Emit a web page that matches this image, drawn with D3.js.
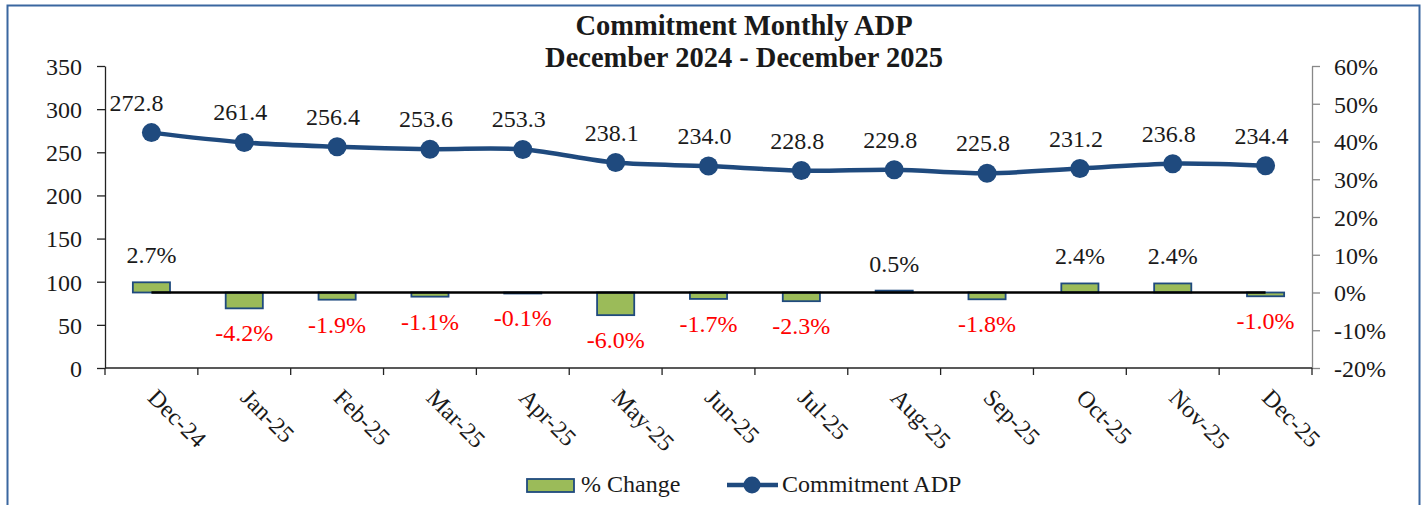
<!DOCTYPE html>
<html>
<head>
<meta charset="utf-8">
<script src="https://cdn.jsdelivr.net/npm/d3@7"></script>
<style>
  body { margin: 0; background: #fff; }
  svg text { font-family: "Liberation Serif", "Times New Roman", serif; fill: #1a1a1a; }
</style>
</head>
<body>
<div id="chart"></div>
<script>
// chart data
const months = ["Dec-24","Jan-25","Feb-25","Mar-25","Apr-25","May-25","Jun-25","Jul-25","Aug-25","Sep-25","Oct-25","Nov-25","Dec-25"];
const adp = [272.8, 261.4, 256.4, 253.6, 253.3, 238.1, 234.0, 228.8, 229.8, 225.8, 231.2, 236.8, 234.4];
const pctChange = [2.7, -4.2, -1.9, -1.1, -0.1, -6.0, -1.7, -2.3, 0.5, -1.8, 2.4, 2.4, -1.0];
const leftTicks = [0, 50, 100, 150, 200, 250, 300, 350];
const rightTicks = [-20, -10, 0, 10, 20, 30, 40, 50, 60];

const W = 1423, H = 505;
const margin = { top: 66, right: 111, bottom: 137, left: 105 };
const width = W - margin.left - margin.right;
const height = H - margin.top - margin.bottom;

const navy = "#1F4A7E";
const green = "#9BBB59";
const serif = '"Liberation Serif", "Times New Roman", serif';
const fs = "24px";

const svg = d3.select("#chart").append("svg")
  .attr("width", W)
  .attr("height", H)
  .style("font-family", serif);

// outer frame
svg.append("rect")
  .attr("x", 7.5).attr("y", 5.5)
  .attr("width", 1412).attr("height", 520)
  .attr("fill", "none")
  .attr("stroke", "#3A67A0")
  .attr("stroke-width", 2);

// title
svg.append("text")
  .attr("x", 744).attr("y", 35)
  .attr("text-anchor", "middle")
  .style("font-weight", "bold").style("font-size", "28.5px")
  .text("Commitment Monthly ADP");
svg.append("text")
  .attr("x", 744).attr("y", 67)
  .attr("text-anchor", "middle")
  .style("font-weight", "bold").style("font-size", "28.5px")
  .text("December 2024 - December 2025");

const g = svg.append("g")
  .attr("transform", `translate(${margin.left},${margin.top})`);

// scales
const x = d3.scaleBand().domain(months).range([0, width]).padding(0);
const yL = d3.scaleLinear().domain([0, 350]).range([height, 0]);
const yR = d3.scaleLinear().domain([-20, 60]).range([height, 0]);
const cx = d => x(d) + x.bandwidth() / 2;

// left axis
const leftAxis = g.append("g")
  .call(d3.axisLeft(yL).tickValues(leftTicks).tickSize(8).tickPadding(15).tickSizeOuter(0));
leftAxis.attr("font-family", null);
leftAxis.selectAll("line, path").attr("stroke", "#222").attr("stroke-width", 1.3);
leftAxis.selectAll("text").style("font-size", fs).style("font-family", serif).attr("fill", "#1a1a1a").attr("dy", "0.35em");

// right axis
const rightAxis = g.append("g")
  .attr("transform", `translate(${width},0)`)
  .call(d3.axisRight(yR).tickValues(rightTicks).tickSize(8).tickPadding(14).tickSizeOuter(0)
    .tickFormat(d => d + "%"));
rightAxis.attr("font-family", null);
rightAxis.selectAll("line, path").attr("stroke", "#888").attr("stroke-width", 1.3);
rightAxis.selectAll("text").style("font-size", fs).style("font-family", serif).attr("fill", "#1a1a1a").attr("dy", "0.35em");

// x axis with ticks between categories
const xAxis = g.append("g")
  .attr("transform", `translate(0,${height})`);
xAxis.append("line")
  .attr("x1", 0).attr("x2", width)
  .attr("stroke", "#222").attr("stroke-width", 1.3);
xAxis.selectAll(".tk")
  .data(months.concat(["end"]))
  .enter().append("line")
  .attr("x1", (d, i) => i < months.length ? x(d) : width)
  .attr("x2", (d, i) => i < months.length ? x(d) : width)
  .attr("y1", 0).attr("y2", 7)
  .attr("stroke", "#222").attr("stroke-width", 1.3);
xAxis.selectAll(".xl")
  .data(months)
  .enter().append("text")
  .attr("transform", d => `translate(${cx(d) + 1},${25}) rotate(45)`)
  .attr("text-anchor", "start")
  .attr("dy", "0.35em")
  .style("font-size", fs)
  .text(d => d);

// bars on the right axis
const barW = x.bandwidth() * 0.4;
g.selectAll(".bar")
  .data(pctChange)
  .enter().append("rect")
  .attr("x", (d, i) => cx(months[i]) - barW / 2)
  .attr("y", d => yR(Math.max(0, d)))
  .attr("width", barW)
  .attr("height", d => Math.max(1, Math.abs(yR(d) - yR(0))))
  .attr("fill", green)
  .attr("stroke", navy)
  .attr("stroke-width", 1.8);

// zero line across the categories
g.append("line")
  .attr("x1", cx(months[0])).attr("x2", cx(months[months.length - 1]))
  .attr("y1", yR(0)).attr("y2", yR(0))
  .attr("stroke", "#000").attr("stroke-width", 2.5);

// bar labels
g.selectAll(".pl")
  .data(pctChange)
  .enter().append("text")
  .attr("x", (d, i) => cx(months[i]))
  .attr("y", d => d >= 0 ? yR(d) - 19 : yR(d) + 33)
  .attr("text-anchor", "middle")
  .style("font-size", fs)
  .style("fill", d => d >= 0 ? "#1a1a1a" : "#FF0000")
  .text(d => d.toFixed(1) + "%");

// ADP line on the left axis
const line = d3.line()
  .x((d, i) => cx(months[i]))
  .y(d => yL(d))
  .curve(d3.curveCatmullRom.alpha(0));

g.append("path")
  .datum(adp)
  .attr("d", line)
  .attr("fill", "none")
  .attr("stroke", navy)
  .attr("stroke-width", 4.5);

g.selectAll(".pt")
  .data(adp)
  .enter().append("circle")
  .attr("cx", (d, i) => cx(months[i]))
  .attr("cy", d => yL(d))
  .attr("r", 9.5)
  .attr("fill", navy);

g.selectAll(".al")
  .data(adp)
  .enter().append("text")
  .attr("x", (d, i) => cx(months[i]) - (i === 0 ? 15 : 4))
  .attr("y", d => yL(d) - 22)
  .attr("text-anchor", "middle")
  .style("font-size", fs)
  .text(d => d.toFixed(1));

// legend
const lg = svg.append("g");
lg.append("rect")
  .attr("x", 527).attr("y", 479)
  .attr("width", 47).attr("height", 13)
  .attr("fill", green).attr("stroke", navy).attr("stroke-width", 1.8);
lg.append("text")
  .attr("x", 581).attr("y", 492)
  .style("font-size", fs)
  .text("% Change");
lg.append("line")
  .attr("x1", 727).attr("x2", 778)
  .attr("y1", 485).attr("y2", 485)
  .attr("stroke", navy).attr("stroke-width", 4.5);
lg.append("circle")
  .attr("cx", 752).attr("cy", 485).attr("r", 8.5)
  .attr("fill", navy);
lg.append("text")
  .attr("x", 782).attr("y", 492)
  .style("font-size", fs)
  .text("Commitment ADP");
</script>
</body>
</html>
